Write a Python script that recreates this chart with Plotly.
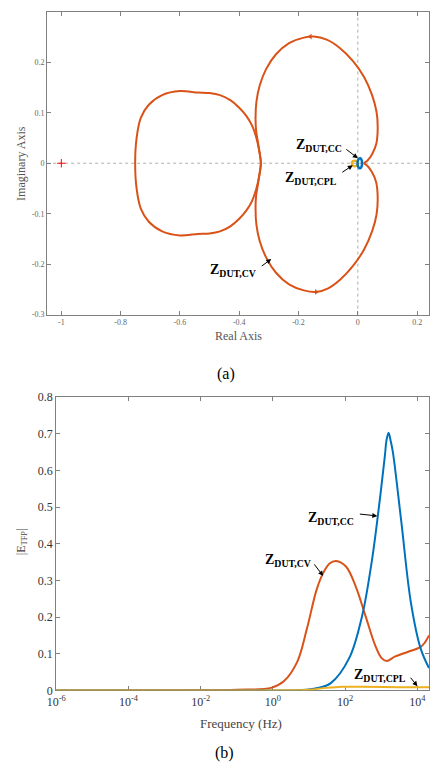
import plotly.graph_objects as go

# ---------------- (a) Nyquist data ----------------
# left loop of Z_DUT,CV (closed)
cv_left_re = [-0.751, -0.746, -0.732, -0.705, -0.660, -0.600, -0.540, -0.500, -0.465, -0.430, -0.400, -0.375, -0.357, -0.343, -0.333, -0.327,
              -0.333, -0.343, -0.357, -0.375, -0.400, -0.430, -0.465, -0.500, -0.540, -0.600, -0.660, -0.705, -0.732, -0.746, -0.751]
cv_left_im = [0.000, 0.051, 0.090, 0.116, 0.135, 0.143, 0.140, 0.139, 0.135, 0.125, 0.110, 0.093, 0.075, 0.052, 0.026, 0.000,
              -0.026, -0.052, -0.075, -0.093, -0.110, -0.125, -0.135, -0.139, -0.140, -0.143, -0.135, -0.116, -0.090, -0.051, 0.000]
# big loop of Z_DUT,CV (closed)
cv_big_re = [0.021, 0.032, 0.048, 0.062, 0.067, 0.063, 0.048, 0.021, -0.017, -0.062, -0.105, -0.149, -0.182, -0.232, -0.276, -0.309,
             -0.331, -0.342, -0.345, -0.343, -0.334, -0.327,
             -0.334, -0.343, -0.345, -0.342, -0.331, -0.309, -0.276, -0.232, -0.182, -0.140, -0.100, -0.060, -0.017,
             0.021, 0.048, 0.063, 0.067, 0.062, 0.048, 0.032, 0.021]
cv_big_im = [0.000, 0.005, 0.018, 0.038, 0.070, 0.102, 0.135, 0.171, 0.203, 0.229, 0.245, 0.251, 0.249, 0.238, 0.216, 0.187,
             0.154, 0.122, 0.090, 0.064, 0.031, 0.000,
             -0.031, -0.064, -0.090, -0.122, -0.154, -0.187, -0.217, -0.240, -0.252, -0.255, -0.248, -0.231, -0.204,
             -0.171, -0.135, -0.102, -0.070, -0.038, -0.018, -0.005, 0.000]
# direction arrows on the CV locus
arrow_re = [-0.160, -0.140]
arrow_im = [0.251, -0.255]
# small loops near the origin
cc_re = [-0.001, 0.002, 0.008, 0.013, 0.014, 0.013, 0.008, 0.002, -0.001]
cc_im = [0.000, 0.008, 0.010, 0.006, 0.000, -0.006, -0.010, -0.008, 0.000]
cpl_re = [-0.020, -0.017, -0.010, -0.003, -0.001, -0.003, -0.010, -0.017, -0.020]
cpl_im = [0.000, 0.004, 0.005, 0.004, 0.000, -0.004, -0.006, -0.004, 0.000]

# ---------------- (b) |E_TFP| vs frequency ----------------
f_cv = [1e-6, 0.01, 0.1, 0.89, 2.0, 4.7, 8.7, 16.2, 24.5, 37, 56, 105, 195, 363, 676, 1023, 1413, 2344, 5370, 12300, 15850, 20900]
e_cv = [0.0, 0.0005, 0.002, 0.007, 0.025, 0.078, 0.168, 0.275, 0.320, 0.346, 0.353, 0.338, 0.284, 0.204, 0.123, 0.088, 0.080, 0.092, 0.105, 0.119, 0.130, 0.150]
f_cc = [1e-6, 1, 6.3, 16.2, 40, 129, 295, 550, 832, 1259, 1380, 1585, 1820, 2090, 3548, 6607, 12300, 20900]
e_cc = [0.0, 0.0, 0.001, 0.006, 0.020, 0.088, 0.204, 0.355, 0.489, 0.641, 0.680, 0.703, 0.680, 0.650, 0.463, 0.239, 0.114, 0.061]
f_cpl = [1e-6, 1, 10, 30, 80, 300, 3000, 20900]
e_cpl = [0.0, 0.0, 0.002, 0.007, 0.010, 0.010, 0.009, 0.009]

x_ticks_a = [-1, -0.8, -0.6, -0.4, -0.2, 0, 0.2]
x_ticktext_a = ["-1", "-0.8", "-0.6", "-0.4", "-0.2", "0", "0.2"]
y_ticks_a = [-0.3, -0.2, -0.1, 0, 0.1, 0.2]
y_ticktext_a = ["-0.3", "-0.2", "-0.1", "0", "0.1", "0.2"]
x_ticks_b = [1e-6, 1e-4, 1e-2, 1, 1e2, 1e4]
x_ticktext_b = ["10<sup>-6</sup>", "10<sup>-4</sup>", "10<sup>-2</sup>", "10<sup>0</sup>", "10<sup>2</sup>", "10<sup>4</sup>"]
y_ticks_b = [0, 0.1, 0.2, 0.3, 0.4, 0.5, 0.6, 0.7, 0.8]
y_ticktext_b = ["0", "0.1", "0.2", "0.3", "0.4", "0.5", "0.6", "0.7", "0.8"]

ORANGE = "#D95319"
BLUE = "#0072BD"
YELLOW = "#EDB120"
SERIF = "Liberation Serif"

fig = go.Figure()
# (a)
fig.add_trace(go.Scatter(x=cv_left_re, y=cv_left_im, mode="lines", line=dict(color=ORANGE, width=2, shape="spline", smoothing=0.8),
                         xaxis="x", yaxis="y", showlegend=False))
fig.add_trace(go.Scatter(x=cv_big_re, y=cv_big_im, mode="lines", line=dict(color=ORANGE, width=2, shape="spline", smoothing=0.8),
                         xaxis="x", yaxis="y", showlegend=False))
fig.add_trace(go.Scatter(x=arrow_re, y=arrow_im, mode="markers",
                         marker=dict(symbol=["triangle-left", "triangle-right"], size=5, color=ORANGE),
                         xaxis="x", yaxis="y", showlegend=False))
fig.add_trace(go.Scatter(x=cpl_re, y=cpl_im, mode="lines", line=dict(color=YELLOW, width=2.5, shape="spline"),
                         xaxis="x", yaxis="y", showlegend=False))
fig.add_trace(go.Scatter(x=cc_re, y=cc_im, mode="lines", line=dict(color=BLUE, width=2.5, shape="spline"),
                         xaxis="x", yaxis="y", showlegend=False))
fig.add_trace(go.Scatter(x=[-1], y=[0], mode="markers",
                         marker=dict(symbol="cross-thin", size=6, line=dict(color="red", width=1)),
                         xaxis="x", yaxis="y", showlegend=False))
# (b)
fig.add_trace(go.Scatter(x=f_cv, y=e_cv, mode="lines", line=dict(color=ORANGE, width=2, shape="spline"),
                         xaxis="x2", yaxis="y2", showlegend=False))
fig.add_trace(go.Scatter(x=f_cc, y=e_cc, mode="lines", line=dict(color=BLUE, width=2, shape="spline"),
                         xaxis="x2", yaxis="y2", showlegend=False))
fig.add_trace(go.Scatter(x=f_cpl, y=e_cpl, mode="lines", line=dict(color=YELLOW, width=2, shape="spline"),
                         xaxis="x2", yaxis="y2", showlegend=False))

ax_common = dict(showline=True, linecolor="#808080", linewidth=1, mirror="ticks", ticks="inside",
                 ticklen=4, tickcolor="#808080", showgrid=False, zeroline=False, layer="below traces")

fig.update_layout(
    width=430, height=776, margin=dict(l=0, r=0, t=0, b=0),
    paper_bgcolor="white", plot_bgcolor="white",
    font=dict(family=SERIF, color="#333"),
    xaxis=dict(domain=[0.0907, 1.0], range=[-1.048, 0.24], anchor="y",
               tickvals=x_ticks_a, ticktext=x_ticktext_a, tickfont=dict(size=8, color="#666"), **ax_common),
    yaxis=dict(domain=[0.5963, 0.9936], range=[-0.3, 0.3], anchor="x",
               tickvals=y_ticks_a, ticktext=y_ticktext_a, tickfont=dict(size=8, color="#666"), **ax_common),
    xaxis2=dict(domain=[0.1123, 1.0], type="log", range=[-6, 4.32], anchor="y2",
                tickvals=x_ticks_b, ticktext=x_ticktext_b, tickfont=dict(size=12, color="#333"), **ax_common),
    yaxis2=dict(domain=[0.1031, 0.488], range=[0, 0.8], anchor="x2",
                tickvals=y_ticks_b, ticktext=y_ticktext_b, tickfont=dict(size=12, color="#333"), **ax_common),
    shapes=[
        dict(type="line", xref="x", yref="y", x0=0, x1=0, y0=-0.3, y1=0.3, line=dict(color="#9a9a9a", width=0.8, dash="dot"), layer="below"),
        dict(type="line", xref="x", yref="y", x0=-1.048, x1=0.24, y0=0, y1=0, line=dict(color="#9a9a9a", width=0.8, dash="dot"), layer="below"),
    ],
)

lab = dict(family=SERIF, size=14, color="black")
ctr = dict(xanchor="center", yanchor="middle", showarrow=False, xref="paper", yref="paper")
ann = [
    # axis titles and captions
    dict(x=0.0302, y=0.795, text="Imaginary Axis", textangle=-90, font=dict(family=SERIF, size=12, color="#555"), **ctr),
    dict(x=0.5465, y=0.5683, text="Real Axis", font=dict(family=SERIF, size=12, color="#555"), **ctr),
    dict(x=0.516, y=0.519, text="(a)", font=dict(family=SERIF, size=16, color="black"), **ctr),
    dict(x=0.031, y=0.2977, text="|E<sub>TFP</sub>|", textangle=-90, font=dict(family=SERIF, size=12, color="#444"), **ctr),
    dict(x=0.553, y=0.0593, text="Frequency (Hz)", font=dict(family=SERIF, size=13, color="#444"), **ctr),
    dict(x=0.514, y=0.0206, text="(b)", font=dict(family=SERIF, size=16, color="black"), **ctr),
    # (a) labels
    dict(xref="x", yref="y", x=-0.046, y=0.036, xanchor="right", text="<b>Z<sub>DUT,CC</sub></b>", showarrow=False, font=lab),
    dict(xref="x", yref="y", x=0.0, y=0.010, text="", showarrow=True, ax=-13, ay=-10, arrowhead=2, arrowsize=1, arrowwidth=1, arrowcolor="black"),
    dict(xref="x", yref="y", x=-0.062, y=-0.030, xanchor="right", text="<b>Z<sub>DUT,CPL</sub></b>", showarrow=False, font=lab),
    dict(xref="x", yref="y", x=-0.017, y=-0.004, text="", showarrow=True, ax=-12, ay=8, arrowhead=2, arrowsize=1, arrowwidth=1, arrowcolor="black"),
    dict(xref="x", yref="y", x=-0.336, y=-0.212, xanchor="right", text="<b>Z<sub>DUT,CV</sub></b>", showarrow=False, font=lab),
    dict(xref="x", yref="y", x=-0.292, y=-0.19, text="", showarrow=True, ax=-11, ay=8, arrowhead=2, arrowsize=1, arrowwidth=1, arrowcolor="black"),
    # (b) labels
    dict(xref="x2", yref="y2", x=2.29, y=0.47, xanchor="right", text="<b>Z<sub>DUT,CC</sub></b>", showarrow=False, font=lab),
    dict(xref="x2", yref="y2", x=2.89, y=0.476, text="", showarrow=True, ax=-19, ay=-2, arrowhead=2, arrowsize=1, arrowwidth=1, arrowcolor="black"),
    dict(xref="x2", yref="y2", x=1.12, y=0.355, xanchor="right", text="<b>Z<sub>DUT,CV</sub></b>", showarrow=False, font=lab),
    dict(xref="x2", yref="y2", x=1.39, y=0.3125, text="", showarrow=True, ax=-10, ay=-13, arrowhead=2, arrowsize=1, arrowwidth=1, arrowcolor="black"),
    dict(xref="x2", yref="y2", x=3.73, y=0.042, xanchor="right", text="<b>Z<sub>DUT,CPL</sub></b>", showarrow=False, font=lab),
    dict(xref="x2", yref="y2", x=4.0, y=0.0115, text="", showarrow=True, ax=-8, ay=-10, arrowhead=2, arrowsize=1, arrowwidth=1, arrowcolor="black"),
]
fig.update_layout(annotations=ann)

fig.write_html("out.html", config={"displayModeBar": False},
               post_script="document.body.style.margin='0';document.body.style.overflow='hidden';")
